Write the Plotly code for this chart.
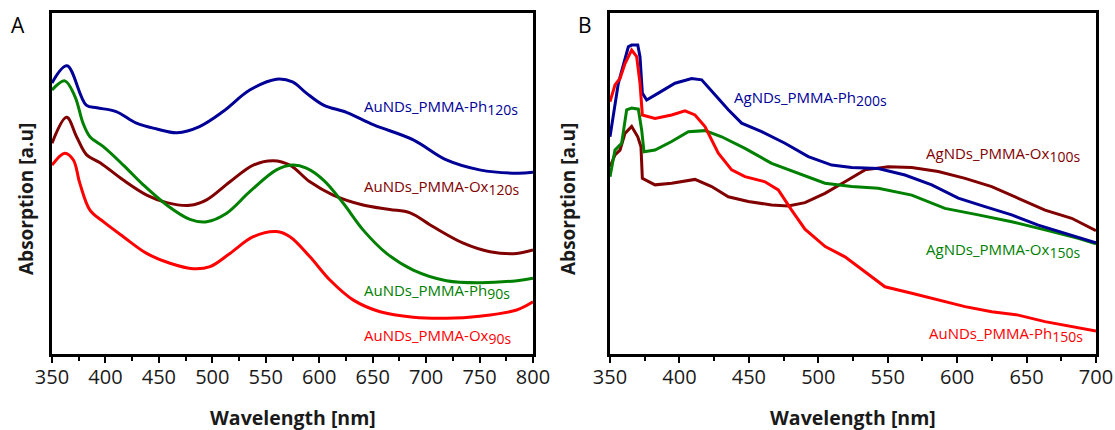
import plotly.graph_objects as go

# ---- Panel A: Au nanodots in PMMA (smooth spectra) ----
a_ph120_wl = [350, 364, 382, 392, 410, 429, 448, 467, 488, 510, 535, 560, 575, 588, 604, 626, 651, 688, 719, 750, 785, 800]
a_ph120 = [79.5, 84.5, 73.0, 72.2, 71.1, 67.7, 66.0, 64.9, 66.7, 71.1, 77.4, 80.6, 79.8, 76.5, 73.0, 70.8, 67.2, 62.8, 56.9, 54.0, 53.0, 53.3]

a_ph90_wl = [350, 362, 371.5, 379, 385.5, 398, 416.7, 435.4, 457.3, 479, 494.7, 513.4, 535, 560, 575, 588, 604, 622.5, 641, 663, 688, 719, 750, 785, 800]
a_ph90 = [77.4, 80.1, 75.5, 67.7, 63.7, 60.8, 55.4, 49.6, 43.7, 39.5, 38.8, 41.3, 47.6, 54.0, 55.4, 54.5, 51.0, 44.2, 36.4, 29.5, 24.6, 21.5, 20.9, 21.5, 22.2]

a_ox120_wl = [350, 363.7, 373, 382.4, 395, 416.7, 438.6, 457.3, 479, 494.7, 516.5, 538.3, 557, 572.6, 591.3, 613, 641, 666, 685, 706.7, 734.8, 759.7, 784.7, 800]
a_ox120 = [61.8, 69.4, 63.7, 58.4, 56.1, 51.0, 46.6, 44.4, 43.6, 45.2, 50.5, 55.4, 56.7, 55.4, 50.5, 46.6, 43.7, 42.4, 41.4, 37.3, 32.5, 30.0, 29.5, 30.5]

a_ox90_wl = [350, 362, 370, 376, 385.5, 398, 416.7, 438.6, 460.4, 482.2, 497.8, 516.5, 538.3, 560, 572.6, 591.3, 610, 632, 657, 688, 719, 750, 784.7, 800]
a_ox90 = [55.4, 58.9, 56.9, 50.1, 42.2, 38.8, 34.4, 29.5, 26.6, 25.0, 25.6, 29.5, 34.4, 35.9, 34.4, 28.5, 21.7, 15.8, 12.4, 10.8, 10.5, 11.1, 12.9, 15.3]

# ---- Panel B: Ag / Au nanodots in PMMA ----
b_ag_ph200_wl = [350, 356, 363.2, 365.6, 370, 371.6, 373.3, 376.4, 384.8, 396.8, 408.8, 416, 425.6, 435.2, 444.8, 459.2, 476, 492.8, 509.7, 524, 543.2, 562.4, 581.7, 600.8, 620, 639.3, 658.4, 677.7, 700]
b_ag_ph200 = [63.7, 79.4, 90.1, 90.6, 90.6, 87.2, 76.5, 74.5, 76.5, 79.4, 80.8, 80.4, 76.0, 71.6, 67.7, 65.2, 61.8, 57.9, 55.4, 54.7, 54.4, 52.5, 49.6, 45.7, 43.2, 40.8, 37.8, 35.4, 32.6]

b_au_ph150_wl = [350, 353.6, 357.2, 360.8, 365.6, 369.2, 371.6, 373.3, 382.4, 394.4, 404, 411.2, 418.4, 428, 437.6, 447.2, 461.6, 471.2, 480.8, 490.4, 505, 519.2, 533.6, 548, 567.3, 586.4, 605.7, 624.9, 644, 663.3, 682.5, 700]
b_au_ph150 = [74.0, 78.9, 80.8, 85.2, 89.1, 87.2, 79.4, 70.1, 69.1, 70.1, 71.3, 70.1, 66.7, 58.9, 54.0, 52.0, 50.5, 48.1, 42.2, 36.6, 31.5, 28.5, 24.1, 19.7, 17.8, 15.8, 13.9, 12.4, 11.4, 9.5, 8.0, 6.7]

b_ag_ox150_wl = [350, 353.6, 358.4, 362, 365.6, 370.4, 372.8, 374.5, 382.4, 394.4, 406.4, 418.4, 430.4, 447.2, 466.4, 485.6, 504.8, 524, 543.2, 567.3, 591.2, 615.2, 639.3, 663.3, 687.2, 700]
b_ag_ox150 = [52.0, 59.8, 61.8, 71.6, 72.1, 71.8, 65.7, 59.3, 59.8, 62.3, 65.2, 65.5, 63.7, 60.3, 55.9, 53.0, 50.1, 49.1, 48.6, 46.6, 42.7, 40.8, 38.8, 36.4, 33.9, 32.3]

b_ag_ox100_wl = [350, 353.6, 357.2, 360.8, 365.6, 370, 372.3, 373.3, 382.4, 394.4, 411.2, 423.2, 435.2, 449.6, 466.4, 478.4, 490.4, 504.8, 519.2, 533.6, 550.4, 567.3, 586.4, 605.7, 624.9, 644, 663.3, 682.5, 700]
b_ag_ox100 = [54.9, 58.4, 59.8, 64.7, 66.7, 63.7, 60.8, 51.5, 49.6, 50.1, 51.2, 49.1, 46.1, 44.7, 43.7, 43.4, 44.4, 47.1, 50.5, 54.0, 54.9, 54.7, 53.5, 51.5, 49.1, 45.7, 42.2, 39.8, 36.2]

# series label text: (main, subscript)
a_labels = [("AuNDs_PMMA-Ph", "120s"), ("AuNDs_PMMA-Ox", "120s"), ("AuNDs_PMMA-Ph", "90s"), ("AuNDs_PMMA-Ox", "90s")]
b_labels = [("AgNDs_PMMA-Ph", "200s"), ("AgNDs_PMMA-Ox", "100s"), ("AgNDs_PMMA-Ox", "150s"), ("AuNDs_PMMA-Ph", "150s")]

BLUE = "rgb(0,0,150)"
GREEN = "rgb(0,128,0)"
DARKRED = "rgb(128,0,0)"
RED = "rgb(255,0,0)"
FONT = "Open Sans"

fig = go.Figure()

# Panel A traces (smooth)
for wl, val, col in [(a_ph120_wl, a_ph120, BLUE), (a_ox120_wl, a_ox120, DARKRED),
                     (a_ph90_wl, a_ph90, GREEN), (a_ox90_wl, a_ox90, RED)]:
    fig.add_trace(go.Scatter(x=wl, y=val, mode="lines", xaxis="x", yaxis="y",
                             line=dict(color=col, width=3, shape="spline", smoothing=1.0),
                             showlegend=False, hoverinfo="skip"))

# Panel B traces
for wl, val, col in [(b_ag_ox100_wl, b_ag_ox100, DARKRED), (b_ag_ox150_wl, b_ag_ox150, GREEN),
                     (b_ag_ph200_wl, b_ag_ph200, BLUE), (b_au_ph150_wl, b_au_ph150, RED)]:
    fig.add_trace(go.Scatter(x=wl, y=val, mode="lines", xaxis="x2", yaxis="y2",
                             line=dict(color=col, width=3),
                             showlegend=False, hoverinfo="skip"))

ydom = [1 - 354 / 430, 1 - 13 / 430]
xa = dict(showline=True, linecolor="black", linewidth=2.5, mirror=True, automargin=False,
          ticks="outside", ticklen=6, tickwidth=2, tickcolor="black", ticklabelstandoff=-3,
          tickfont=dict(family=FONT, size=20, color="#1a1a1a"),
          showgrid=False, zeroline=False, dtick=50,
          minor=dict(dtick=25, ticks="outside", ticklen=4, tickwidth=2, tickcolor="black"))
ya = dict(showline=True, linecolor="black", linewidth=2.5, mirror=True, automargin=False,
          showticklabels=False, ticks="", showgrid=False, zeroline=False,
          range=[0, 100], domain=ydom)

fig.update_layout(
    width=1115, height=430, autosize=False,
    margin=dict(l=0, r=0, t=0, b=0, pad=0, autoexpand=False),
    paper_bgcolor="white", plot_bgcolor="white",
    xaxis=dict(xa, domain=[52 / 1115, 533 / 1115], range=[350, 800], anchor="y"),
    yaxis=dict(ya, anchor="x"),
    xaxis2=dict(xa, domain=[610 / 1115, 1096 / 1115], range=[350, 700], anchor="y2"),
    yaxis2=dict(ya, anchor="x2"),
)


def lbl(main, sub):
    return f"{main}<sub><span style='font-size:14px'>{sub}</span></sub>"


ann = []
# curve labels, panel A
for (m, s), col, yv in zip(a_labels, [BLUE, DARKRED, GREEN, RED], [72.4, 48.7, 18.2, 5.0]):
    ann.append(dict(x=640, y=yv, xref="x", yref="y", text=lbl(m, s), showarrow=False,
                    xanchor="left", yanchor="middle", font=dict(family=FONT, size=15, color=col)))
# curve labels, panel B
for (m, s), col, xv, yv in zip(b_labels, [BLUE, DARKRED, GREEN, RED],
                               [437.6, 576.1, 576.1, 578.3], [75.0, 58.4, 30.5, 5.6]):
    ann.append(dict(x=xv, y=yv, xref="x2", yref="y2", text=lbl(m, s), showarrow=False,
                    xanchor="left", yanchor="middle", font=dict(family=FONT, size=15, color=col)))

# panel letters
ann.append(dict(x=18 / 1115, y=1 - 25 / 430, xref="paper", yref="paper", text="A", showarrow=False,
                xanchor="center", yanchor="middle", font=dict(family=FONT, size=21, color="black")))
ann.append(dict(x=585 / 1115, y=1 - 25 / 430, xref="paper", yref="paper", text="B", showarrow=False,
                xanchor="center", yanchor="middle", font=dict(family=FONT, size=21, color="black")))

# axis titles
for cx in [292.5, 853]:
    ann.append(dict(x=cx / 1115, y=1 - 417 / 430, xref="paper", yref="paper",
                    text="<b>Wavelength [nm]</b>", showarrow=False, xanchor="center", yanchor="middle",
                    font=dict(family=FONT, size=19.5, color="#1a1a1a")))
for cx in [26, 568]:
    ann.append(dict(x=cx / 1115, y=1 - 199 / 430, xref="paper", yref="paper",
                    text="<b>Absorption [a.u]</b>", showarrow=False, xanchor="center", yanchor="middle",
                    textangle=-90, font=dict(family=FONT, size=19, color="#1a1a1a")))

fig.update_layout(annotations=ann)
fig.write_html("out.html")
